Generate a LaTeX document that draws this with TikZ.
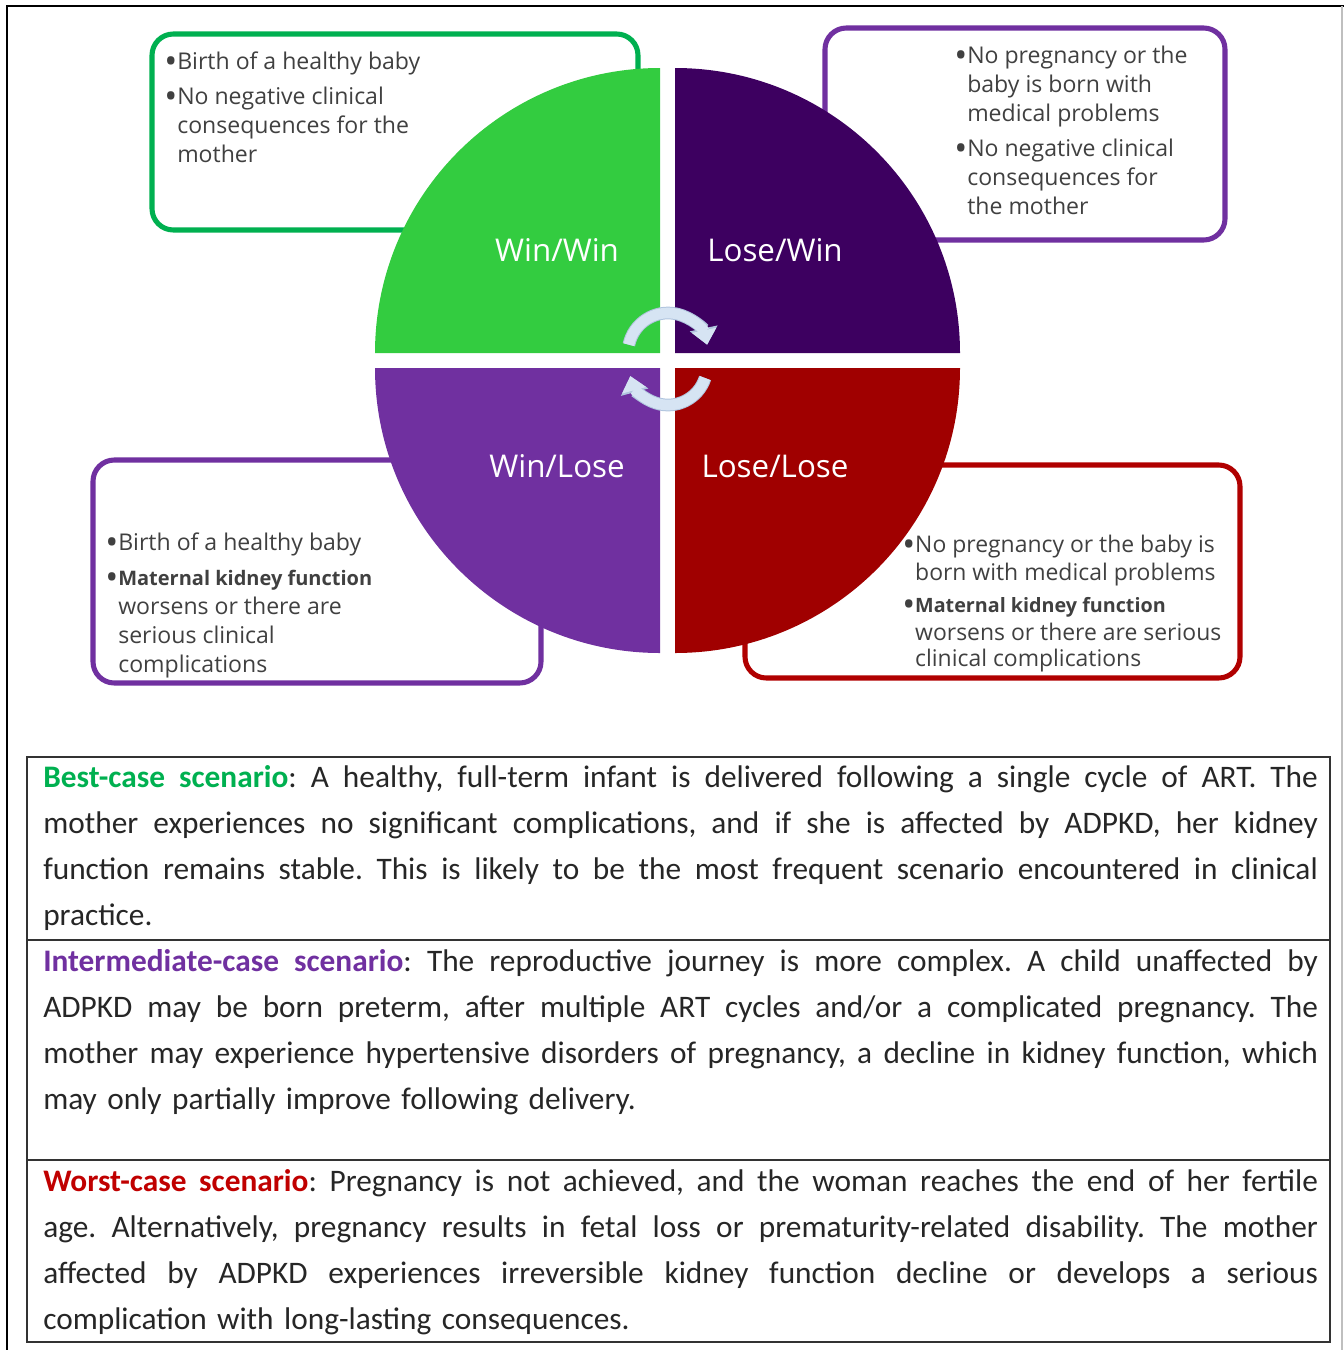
\documentclass[tikz,border=0pt]{standalone}
\usepackage{fontspec}
\setmainfont{Carlito}
\newfontfamily\quadfont{Open Sans}
\usetikzlibrary{arrows.meta}
\definecolor{wwgreen}{RGB}{51,204,64}
\definecolor{lwpurple}{RGB}{61,0,96}
\definecolor{wlpurple}{RGB}{112,48,160}
\definecolor{llred}{RGB}{160,0,0}
\definecolor{boxgreen}{RGB}{0,176,80}
\definecolor{boxred}{RGB}{176,0,0}
\definecolor{arrowblue}{RGB}{214,228,243}
\definecolor{arrowedge}{RGB}{176,196,222}
\definecolor{bodytext}{RGB}{38,38,38}
\definecolor{boxtext}{RGB}{64,64,64}
\definecolor{bestc}{RGB}{0,176,80}
\definecolor{interc}{RGB}{112,48,160}
\definecolor{worstc}{RGB}{192,0,0}
\tikzstyle{outcome} = [rounded corners=16pt, line width=3.8pt, fill=white]
\tikzstyle{outtext} = [anchor=north west, inner sep=0, align=left, text=boxtext, font=\quadfont\fontsize{17.3}{21.75}\selectfont]
\tikzstyle{quadlabel} = [text=white, font=\quadfont\fontsize{23.5}{26}\selectfont]
\tikzstyle{cycleedge} = [line width=9.5pt, arrowedge, -{Triangle[width=20.5pt,length=12.5pt]}]
\tikzstyle{cyclearrow} = [line width=8pt, arrowblue, -{Triangle[width=18pt,length=11pt]}]
\tikzstyle{tablerule} = [line width=1.8pt, black!80]
\tikzstyle{rowtext} = [anchor=north west, inner sep=0, text width=956pt, align=left, text=bodytext, font=\fontsize{23.5}{34.5}\selectfont\frenchspacing]
\newcommand{\jl}[1]{\makebox[956pt][s]{\spaceskip=0.22em plus 1fil\relax #1}}
\newcommand{\bul}{\raisebox{-0.17em}{\scalebox{1.5}{\textbullet}}}
\newcommand{\ind}{\hphantom{\bul}}

\begin{document}
\begin{tikzpicture}[x=0.75pt,y=-0.75pt]
\useasboundingbox (0,0) rectangle (1344,1350);
\draw[line width=2.2pt] (7,1350) -- (7,6) -- (1344,6);
\draw[black!25, line width=1.2pt] (1342,6) -- (1342,1350);

% outcome boxes behind the circle
\draw[outcome, draw=boxgreen] (152,34) rectangle (638,230);
\draw[outcome, draw=wlpurple] (825,28) rectangle (1225,240);
\draw[outcome, draw=wlpurple] (93,460) rectangle (541,683);
\draw[outcome, draw=boxred] (745,465) rectangle (1240,678);

% the four quarters
\fill[wwgreen] (660,353) -- (375,353) arc (180:270:285) -- cycle;
\fill[lwpurple] (675,353) -- (675,68) arc (270:360:285) -- cycle;
\fill[wlpurple] (660,368) -- (375,368) arc (180:90:285) -- cycle;
\fill[llred] (675,368) -- (960,368) arc (0:90:285) -- cycle;

\node[quadlabel] (winwin) at (557,250) {Win/Win};
\node[quadlabel] (losewin) at (775,250) {Lose/Win};
\node[quadlabel] (winlose) at (557,466) {Win/Lose};
\node[quadlabel] (loselose) at (775,466) {Lose/Lose};

% cycle arrows
\coordinate (cyctop) at ({668+40*cos(192)},{353+40*sin(192)});
\coordinate (cycbot) at ({668+39*cos(18)},{366+39*sin(18)});
\draw[cycleedge] (cyctop) arc (192:348:40);
\draw[cyclearrow] (cyctop) arc (192:348:40);
\draw[cycleedge] (cycbot) arc (18:165:39);
\draw[cyclearrow] (cycbot) arc (18:165:39);

\node[outtext] (wwtext) at (164,52) {\bul Birth of a healthy baby\\[4pt]
  \bul No negative clinical\\ \ind consequences for the\\ \ind mother};
\node[outtext] (lwtext) at (954,46) {\bul No pregnancy or the\\ \ind baby is born with\\ \ind medical problems\\[4pt]
  \bul No negative clinical\\ \ind consequences for\\ \ind the mother};
\node[outtext] (wltext) at (105,533) {\bul Birth of a healthy baby\\[4pt]
  \bul{\bfseries\fontsize{15}{21.75}\selectfont Maternal kidney function}\\ \ind worsens or there are\\ \ind serious clinical\\ \ind complications};
\node[outtext, font=\quadfont\fontsize{17.2}{20.5}\selectfont] (lltext) at (902,535) {\bul No pregnancy or the baby is\\ \ind born with medical problems\\[4pt]
  \bul{\bfseries\fontsize{14.8}{20.5}\selectfont Maternal kidney function}\\ \ind worsens or there are serious\\[-1pt] \ind clinical complications};

% scenario table
\draw[tablerule] (27,757) rectangle (1330,1342);
\foreach \y in {940,1160}{
  \draw[tablerule] (27,\y) -- (1330,\y);}

\node[rowtext] (bestrow) at (43,765) {%
\jl{\textcolor{bestc}{\bfseries Best-case scenario}: A healthy, full-term infant is delivered following a single cycle of ART. The}\\
\jl{mother experiences no significant complications, and if she is affected by ADPKD, her kidney}\\
\jl{function remains stable. This is likely to be the most frequent scenario encountered in clinical}\\
practice.};
\node[rowtext] (interrow) at (43,949) {%
\jl{\textcolor{interc}{\bfseries Intermediate-case scenario}: The reproductive journey is more complex. A child unaffected by}\\
\jl{ADPKD may be born preterm, after multiple ART cycles and/or a complicated pregnancy. The}\\
\jl{mother may experience hypertensive disorders of pregnancy, a decline in kidney function, which}\\
may only partially improve following delivery.};
\node[rowtext] (worstrow) at (43,1169) {%
\jl{\textcolor{worstc}{\bfseries Worst-case scenario}: Pregnancy is not achieved, and the woman reaches the end of her fertile}\\
\jl{age. Alternatively, pregnancy results in fetal loss or prematurity-related disability. The mother}\\
\jl{affected by ADPKD experiences irreversible kidney function decline or develops a serious}\\
complication with long-lasting consequences.};
\end{tikzpicture}
\end{document}
